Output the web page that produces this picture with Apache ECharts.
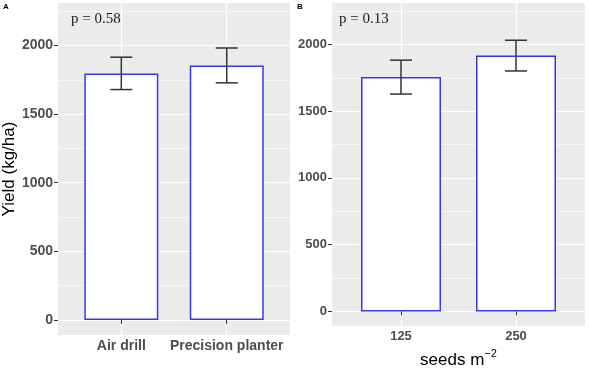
<!DOCTYPE html>
<html><head><meta charset="utf-8">
<script src="https://cdn.jsdelivr.net/npm/echarts@6/dist/echarts.min.js"></script>
<style>html,body{margin:0;padding:0;background:#fff}#c{width:589px;height:374px}</style>
</head><body><div id="c"></div>
<script>
// ---- data ----
const methodCats = ['Air drill', 'Precision planter'];
const methodYield = [1797, 1855];
const methodSE = [118, 127];
const seedCats = ['125', '250'];
const seedYield = [1755, 1916];
const seedSE = [127, 115];
const yTicks = [0, 500, 1000, 1500, 2000];
const pLabels = ['p = 0.58', 'p = 0.13'];
const panelLabels = ['A', 'B'];

const SANS = 'Liberation Sans';
const SERIF = 'Liberation Serif';

function xAxis(gi, cats, fs, extra) {
  const pos = cats.map((c, i) => i + 1);
  return Object.assign({
    type: 'value', gridIndex: gi, min: 0.4, max: 2.6, splitNumber: 2,
    axisLine: { show: false },
    axisTick: { show: true, length: 4, lineStyle: { color: '#333', width: 1 }, customValues: pos },
    axisLabel: { customValues: pos, formatter: v => cats[Math.round(v) - 1] || '',
      fontFamily: SANS, fontWeight: 'bold', fontSize: fs, color: '#4D4D4D', margin: 4 },
    splitLine: { show: true, lineStyle: { color: '#fff', width: 1.2 } }
  }, extra || {});
}
function yAxis(gi, fs, extra) {
  return Object.assign({
    type: 'value', gridIndex: gi, min: -110, max: 2310, splitNumber: 5,
    axisLine: { show: false },
    axisTick: { show: true, length: 4, lineStyle: { color: '#333', width: 1 }, customValues: yTicks },
    axisLabel: { customValues: yTicks, formatter: v => String(v),
      fontFamily: SANS, fontWeight: 'bold', fontSize: fs, color: '#4D4D4D', margin: 5 },
    splitLine: { show: true, lineStyle: { color: '#fff', width: 1.2 } },
    minorTick: { show: false, splitNumber: 2 },
    minorSplitLine: { show: true, lineStyle: { color: '#fff', width: 0.6 } }
  }, extra || {});
}
function bars(idx, vals, w) {
  return { type: 'bar', xAxisIndex: idx, yAxisIndex: idx, barWidth: w, silent: true,
    data: vals.map((v, i) => [i + 1, v]),
    itemStyle: { color: '#fff', borderColor: '#3838E8', borderWidth: 1.5 } };
}
function errs(idx, vals, se) {
  return { type: 'custom', xAxisIndex: idx, yAxisIndex: idx, silent: true, z: 5,
    data: vals.map((v, i) => [i + 1, v - se[i], v + se[i]]),
    renderItem: (params, api) => {
      const x = api.value(0);
      const lo = api.coord([x, api.value(1)]);
      const hi = api.coord([x, api.value(2)]);
      const hw = 11;
      const style = { stroke: '#333', lineWidth: 1.5 };
      return { type: 'group', children: [
        { type: 'line', shape: { x1: lo[0], y1: lo[1], x2: hi[0], y2: hi[1] }, style },
        { type: 'line', shape: { x1: lo[0] - hw, y1: lo[1], x2: lo[0] + hw, y2: lo[1] }, style },
        { type: 'line', shape: { x1: hi[0] - hw, y1: hi[1], x2: hi[0] + hw, y2: hi[1] }, style }
      ] };
    } };
}

const chart = echarts.init(document.getElementById('c'));
chart.setOption({
  animation: false,
  backgroundColor: '#fff',
  title: [
    { text: panelLabels[0], left: 3, top: 3, padding: 0, textStyle: { fontFamily: SANS, fontWeight: 'bold', fontSize: 8, color: '#000' } },
    { text: panelLabels[1], left: 297, top: 3, padding: 0, textStyle: { fontFamily: SANS, fontWeight: 'bold', fontSize: 8, color: '#000' } },
    { text: pLabels[0], left: 71, top: 12, padding: 0, textStyle: { fontFamily: SERIF, fontWeight: 'normal', fontSize: 15, color: '#1a1a1a' } },
    { text: pLabels[1], left: 339, top: 12, padding: 0, textStyle: { fontFamily: SERIF, fontWeight: 'normal', fontSize: 15, color: '#1a1a1a' } }
  ],
  grid: [
    { left: 57, top: 3, width: 233, height: 332, show: true, backgroundColor: '#EBEBEB', borderWidth: 0, containLabel: false },
    { left: 332, top: 3, width: 253, height: 327, show: true, backgroundColor: '#EBEBEB', borderWidth: 0, containLabel: false }
  ],
  xAxis: [
    xAxis(0, methodCats, 14),
    xAxis(1, seedCats, 13, {
      name: '{a|seeds m}{sup|\u22122}', nameLocation: 'middle', nameGap: 18,
      nameTextStyle: { fontFamily: SANS, color: '#000', fontSize: 17,
        rich: { a: { fontFamily: SANS, fontSize: 17, lineHeight: 25, color: '#000' },
                sup: { fontFamily: SANS, fontSize: 11, lineHeight: 11, verticalAlign: 'top', color: '#000' } } }
    })
  ],
  yAxis: [
    yAxis(0, 14, { name: 'Yield (kg/ha)', nameLocation: 'middle', nameGap: 39, nameRotate: 90,
      nameTextStyle: { fontFamily: SANS, fontSize: 17, color: '#000' } }),
    yAxis(1, 13)
  ],
  series: [
    bars(0, methodYield, 74), errs(0, methodYield, methodSE),
    bars(1, seedYield, 80), errs(1, seedYield, seedSE)
  ]
});
</script></body></html>
